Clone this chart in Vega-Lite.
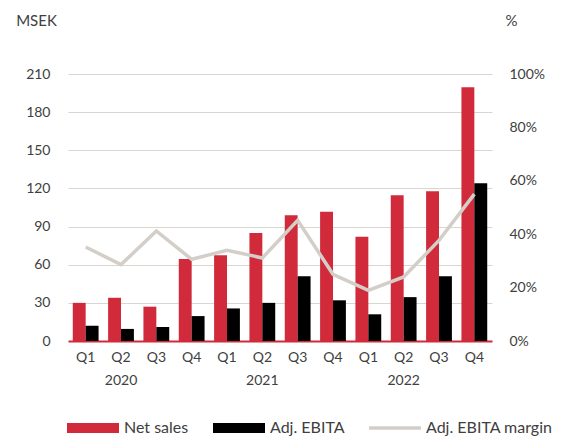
{
  "$schema": "https://vega.github.io/schema/vega-lite/v6.json",
  "width": 424,
  "height": 267,
  "autosize": {"type": "none"},
  "padding": {"left": 68, "top": 74, "right": 73, "bottom": 96},
  "background": "white",
  "config": {
    "font": "Lato",
    "view": {"stroke": null},
    "axis": {"labelFont": "Lato", "titleFont": "Lato", "labelColor": "#404040", "titleColor": "#404040", "labelFontSize": 14, "titleFontSize": 15, "titleFontWeight": "normal", "ticks": false, "domain": false}
  },
  "datasets": {
    "bars": [
      {"period": "Q1 2020", "series": "Net sales", "value": 30},
      {"period": "Q1 2020", "series": "Adj. EBITA", "value": 12},
      {"period": "Q2 2020", "series": "Net sales", "value": 34},
      {"period": "Q2 2020", "series": "Adj. EBITA", "value": 9.5},
      {"period": "Q3 2020", "series": "Net sales", "value": 27},
      {"period": "Q3 2020", "series": "Adj. EBITA", "value": 11},
      {"period": "Q4 2020", "series": "Net sales", "value": 64.5},
      {"period": "Q4 2020", "series": "Adj. EBITA", "value": 19.6},
      {"period": "Q1 2021", "series": "Net sales", "value": 67.5},
      {"period": "Q1 2021", "series": "Adj. EBITA", "value": 25.6},
      {"period": "Q2 2021", "series": "Net sales", "value": 85},
      {"period": "Q2 2021", "series": "Adj. EBITA", "value": 30},
      {"period": "Q3 2021", "series": "Net sales", "value": 99},
      {"period": "Q3 2021", "series": "Adj. EBITA", "value": 51},
      {"period": "Q4 2021", "series": "Net sales", "value": 101.6},
      {"period": "Q4 2021", "series": "Adj. EBITA", "value": 32},
      {"period": "Q1 2022", "series": "Net sales", "value": 82},
      {"period": "Q1 2022", "series": "Adj. EBITA", "value": 21},
      {"period": "Q2 2022", "series": "Net sales", "value": 114.7},
      {"period": "Q2 2022", "series": "Adj. EBITA", "value": 34.5},
      {"period": "Q3 2022", "series": "Net sales", "value": 117.8},
      {"period": "Q3 2022", "series": "Adj. EBITA", "value": 51},
      {"period": "Q4 2022", "series": "Net sales", "value": 199.5},
      {"period": "Q4 2022", "series": "Adj. EBITA", "value": 124}
    ],
    "margin": [
      {"period": "Q1 2020", "margin": 0.352},
      {"period": "Q2 2020", "margin": 0.286},
      {"period": "Q3 2020", "margin": 0.412},
      {"period": "Q4 2020", "margin": 0.306},
      {"period": "Q1 2021", "margin": 0.34},
      {"period": "Q2 2021", "margin": 0.311},
      {"period": "Q3 2021", "margin": 0.452},
      {"period": "Q4 2021", "margin": 0.25},
      {"period": "Q1 2022", "margin": 0.19},
      {"period": "Q2 2022", "margin": 0.24},
      {"period": "Q3 2022", "margin": 0.377},
      {"period": "Q4 2022", "margin": 0.55}
    ]
  },
  "layer": [
    {
      "data": {"name": "bars"},
      "mark": {"type": "bar"},
      "encoding": {
        "x": {
          "field": "period", "type": "nominal", "sort": null,
          "scale": {"paddingInner": 0.27, "paddingOuter": 0.135},
          "axis": {
            "title": null, "labelAngle": 0, "domain": true, "domainColor": "#D12A3B", "domainWidth": 2,
            "labelPadding": 9, "labelLineHeight": 23, "labelBaseline": "top",
            "labelExpr": "slice(datum.value,0,2) == 'Q2' ? [slice(datum.value,0,2), slice(datum.value,3)] : slice(datum.value,0,2)"
          }
        },
        "xOffset": {"field": "series", "type": "nominal", "sort": ["Net sales", "Adj. EBITA"], "scale": {"paddingInner": 0, "paddingOuter": 0}},
        "y": {
          "field": "value", "type": "quantitative",
          "scale": {"domain": [0, 210]},
          "axis": {
            "values": [0, 30, 60, 90, 120, 150, 180, 210], "grid": true, "gridColor": "#D9D5CF", "gridWidth": 1,
            "labelPadding": 18, "title": "MSEK", "titleAngle": 0, "titleX": -32, "titleY": -54,
            "titleAlign": "center", "titleBaseline": "middle"
          }
        },
        "color": {
          "field": "series", "type": "nominal",
          "scale": {"domain": ["Net sales", "Adj. EBITA", "Adj. EBITA margin"], "range": ["#D12A3B", "#000000", "#D3CFC8"]},
          "legend": {
            "title": null, "orient": "none", "direction": "horizontal", "legendX": -1, "legendY": 328,
            "padding": 0, "symbolSize": 2704, "labelOffset": 5, "columnPadding": 24,
            "labelFont": "Lato", "labelFontSize": 16, "labelColor": "#404040",
            "encode": {
              "symbols": {
                "update": {
                  "shape": {"signal": "datum.value == 'Adj. EBITA margin' ? 'M-1,-0.07H1V0.07H-1Z' : 'M-1,-0.19H1V0.19H-1Z'"},
                  "fill": {"signal": "datum.value == 'Net sales' ? '#D12A3B' : datum.value == 'Adj. EBITA' ? '#000000' : '#D3CFC8'"},
                  "strokeWidth": {"value": 0},
                  "opacity": {"value": 1}
                }
              }
            }
          }
        }
      }
    },
    {
      "data": {"name": "margin"},
      "mark": {"type": "line", "strokeWidth": 3.5},
      "encoding": {
        "x": {"field": "period", "type": "nominal", "sort": null},
        "y": {
          "field": "margin", "type": "quantitative",
          "scale": {"domain": [0, 1]},
          "axis": {
            "orient": "right", "values": [0, 0.2, 0.4, 0.6, 0.8, 1], "format": ".0%", "grid": false,
            "labelPadding": 17, "title": "%", "titleAngle": 0, "titleX": 19, "titleY": -54,
            "titleAlign": "center", "titleBaseline": "middle"
          }
        },
        "color": {"datum": "Adj. EBITA margin"}
      }
    }
  ],
  "resolve": {"scale": {"y": "independent"}}
}
